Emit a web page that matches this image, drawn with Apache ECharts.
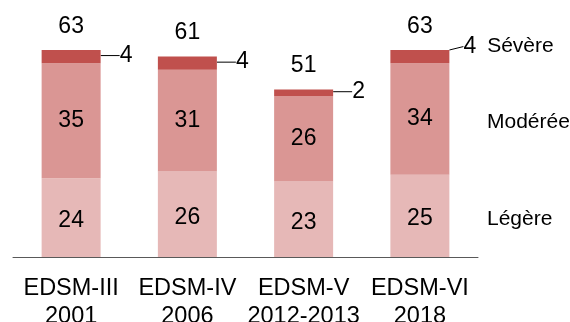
<!DOCTYPE html>
<html><head><meta charset="utf-8">
<script src="https://cdn.jsdelivr.net/npm/echarts@6/dist/echarts.min.js"></script>
<style>html,body{margin:0;padding:0;background:#fff}#c{width:570px;height:322px}</style>
</head><body><div id="c"></div>
<script>
const categories = ['EDSM-III\n2001', 'EDSM-IV\n2006', 'EDSM-V\n2012-2013', 'EDSM-VI\n2018'];
const seriesNames = ['Légère', 'Modérée', 'Sévère'];
const legere = [24, 26, 23, 25];
const moderee = [35, 31, 26, 34];
const severe = [4, 4, 2, 4];
const totals = categories.map((c, i) => legere[i] + moderee[i] + severe[i]);

const FONT = '"Liberation Sans", Arial, sans-serif';
const VAL = 23;
const NAME = 21;
const chart = echarts.init(document.getElementById('c'), null, {renderer: 'canvas'});
const last = categories.length - 1;

const option = {
  animation: false,
  grid: {left: 13, right: 92, top: 27, bottom: 65, containLabel: false, outerBoundsMode: 'none'},
  xAxis: {
    type: 'category', data: categories,
    axisLine: {lineStyle: {color: '#595959', width: 1}},
    axisTick: {show: false},
    axisLabel: {interval: 0, color: '#000', fontFamily: FONT, fontSize: 23.5, lineHeight: 28, margin: 18}
  },
  yAxis: {type: 'value', min: 0, max: 70, show: false, splitLine: {show: false}},
  series: [
    {
      name: seriesNames[0], type: 'bar', stack: 't', data: legere, barWidth: 59,
      itemStyle: {color: '#E6B8B7'},
      label: {show: true, position: 'inside', offset: [0, 3], color: '#000', fontFamily: FONT, fontSize: VAL}
    },
    {
      name: seriesNames[1], type: 'bar', stack: 't', data: moderee, barWidth: 59,
      itemStyle: {color: '#DA9694'},
      label: {show: true, position: 'inside', color: '#000', fontFamily: FONT, fontSize: VAL}
    },
    {
      name: seriesNames[2], type: 'bar', stack: 't', data: severe, barWidth: 59,
      itemStyle: {color: '#C0504D'},
      label: {
        show: true, position: 'right', distance: 4, color: '#000', fontFamily: FONT, fontSize: VAL,
        formatter: p => p.dataIndex === last ? '{v|' + p.value + '}{n|' + seriesNames[2] + '}' : String(p.value),
        rich: {
          v: {fontFamily: FONT, fontSize: VAL, color: '#000'},
          n: {fontFamily: FONT, fontSize: NAME, color: '#000', padding: [0, 0, 0, 11]}
        }
      },
      labelLine: {show: true, lineStyle: {color: '#000', width: 1}},
      labelLayout: p => p.dataIndex === last ? {dx: 10, dy: -10} : {dx: 15, dy: -1}
    },
    {
      name: 'total', type: 'bar', stack: 't', data: totals.map(() => 0), barWidth: 59,
      itemStyle: {color: 'transparent'}, silent: true,
      label: {show: true, position: 'top', distance: 12, color: '#000', fontFamily: FONT, fontSize: VAL,
        formatter: p => String(totals[p.dataIndex])}
    }
  ]
};
chart.setOption(option);

// series names beside the last bar (Légère, Modérée), centred on their segments
const names = [
  {text: seriesNames[0], mid: legere[last] / 2},
  {text: seriesNames[1], mid: legere[last] + moderee[last] / 2}
];
chart.setOption({
  graphic: names.map(n => ({
    type: 'text',
    x: 487,
    y: chart.convertToPixel({gridIndex: 0}, [last, n.mid])[1] + 3,
    style: {text: n.text, fontFamily: FONT, fontSize: NAME, fill: '#000', verticalAlign: 'middle', align: 'left'}
  }))
});
</script></body></html>
